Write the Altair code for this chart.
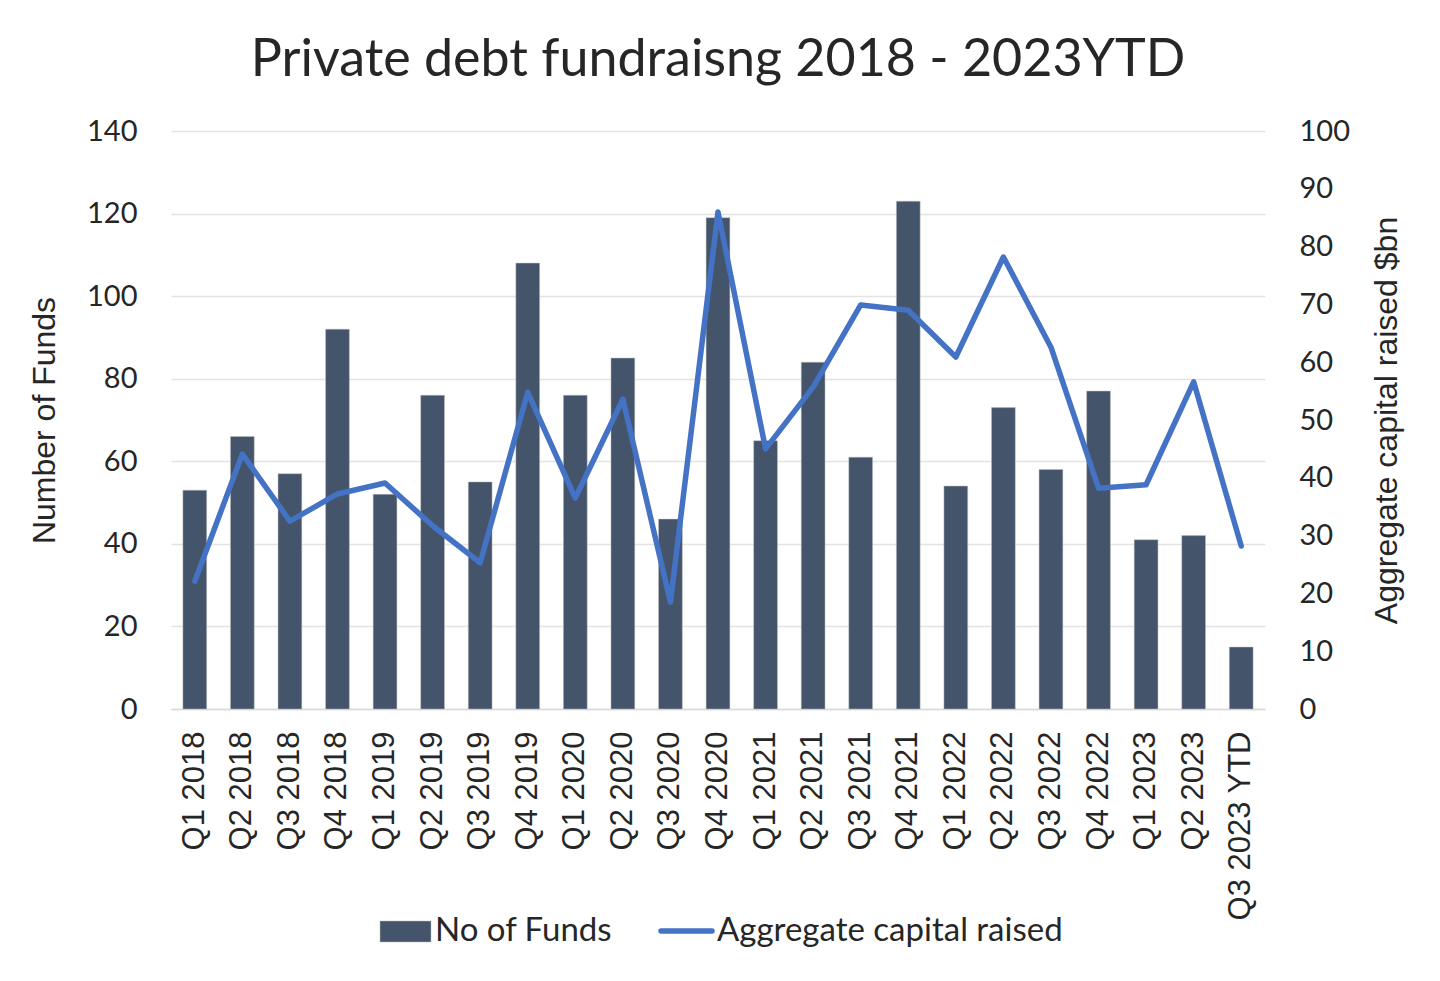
import altair as alt
import pandas as pd

quarters = ["Q1 2018", "Q2 2018", "Q3 2018", "Q4 2018", "Q1 2019", "Q2 2019", "Q3 2019", "Q4 2019",
            "Q1 2020", "Q2 2020", "Q3 2020", "Q4 2020", "Q1 2021", "Q2 2021", "Q3 2021", "Q4 2021",
            "Q1 2022", "Q2 2022", "Q3 2022", "Q4 2022", "Q1 2023", "Q2 2023", "Q3 2023 YTD"]
num_funds = [53, 66, 57, 92, 52, 76, 55, 108, 76, 85, 46, 119, 65, 84, 61, 123, 54, 73, 58, 77, 41, 42, 15]
capital_raised = [22.1, 44.1, 32.5, 37.2, 39.1, 31.7, 25.3, 54.8, 36.5, 53.6, 18.5, 86.0, 45.0, 55.7,
                  69.9, 69.0, 60.9, 78.2, 62.6, 38.2, 38.8, 56.6, 28.2]
legend_labels = ["No of Funds", "Aggregate capital raised"]
title_text = "Private debt fundraisng 2018 - 2023YTD"
left_title = "Number of Funds"
right_title = "Aggregate capital raised $bn"
left_ticks = [0, 20, 40, 60, 80, 100, 120, 140]
right_ticks = [0, 10, 20, 30, 40, 50, 60, 70, 80, 90, 100]

BAR = "#44546A"
LINE = "#4472C4"
TXT = "#262626"
FONT = "Lato"

df = pd.DataFrame({"q": quarters, "funds": num_funds, "capital": capital_raised})

W, H = 1094, 578

xenc = alt.X("q:N", sort=quarters, title=None,
             scale=alt.Scale(paddingInner=0.5, paddingOuter=0.25),
             axis=alt.Axis(labelAngle=-90, labelFontSize=31, labelFont="Liberation Sans",
                           labelColor=TXT, labelPadding=22, ticks=False, labelLimit=400,
                           domainColor="#D9D9D9", domainWidth=1.5, labelBaseline="middle"))

bars = alt.Chart(df).mark_bar(color=BAR, stroke="#BFBFBF", strokeWidth=0.5).encode(
    x=xenc,
    y=alt.Y("funds:Q", scale=alt.Scale(domain=[0, 140]),
            axis=alt.Axis(orient="left", values=left_ticks, title=left_title, grid=True,
                          gridColor="#E3E3E3", gridWidth=1.5, domain=False, ticks=False,
                          labelFontSize=29, labelFont=FONT, labelColor=TXT, labelPadding=34,
                          titleFontSize=32, titleFont="Liberation Sans", titleFontWeight="normal",
                          titleColor=TXT, titlePadding=25))
)

line = alt.Chart(df).mark_line(color=LINE, strokeWidth=5.5, strokeJoin="round", strokeCap="round").encode(
    x=alt.X("q:N", sort=quarters),
    y=alt.Y("capital:Q", scale=alt.Scale(domain=[0, 100]),
            axis=alt.Axis(orient="right", values=right_ticks, title=right_title, grid=False,
                          domain=False, ticks=False,
                          labelFontSize=29, labelFont=FONT, labelColor=TXT, labelPadding=34,
                          titleFontSize=32, titleFont="Liberation Sans", titleFontWeight="normal",
                          titleColor=TXT, titlePadding=54, titleAngle=-90))
)

dummy = alt.Data(values=[{"a": 1}])
leg_rect = alt.Chart(dummy).mark_rect(color=BAR, stroke="#BFBFBF", strokeWidth=0.5).encode(
    x=alt.value(209), x2=alt.value(260), y=alt.value(790), y2=alt.value(811))
leg_text1 = alt.Chart(dummy).mark_text(text=legend_labels[0], align="left", baseline="middle",
                                       fontSize=33, font=FONT, color=TXT).encode(
    x=alt.value(264), y=alt.value(800))
leg_line = alt.Chart(dummy).mark_rule(color=LINE, strokeWidth=5.5, strokeCap="round").encode(
    x=alt.value(490), x2=alt.value(541), y=alt.value(800))
leg_text2 = alt.Chart(dummy).mark_text(text=legend_labels[1], align="left", baseline="middle",
                                       fontSize=33, font=FONT, color=TXT).encode(
    x=alt.value(546), y=alt.value(800))

chart = alt.layer(bars, line, leg_rect, leg_text1, leg_line, leg_text2).resolve_scale(
    y="independent"
).properties(
    width=W, height=H,
    padding={"left": 20, "top": 26, "right": 5, "bottom": 5},
    title=alt.TitleParams(title_text, fontSize=52, font=FONT, fontWeight="normal", color=TXT,
                          anchor="middle", offset=30),
    background="white",
).configure_view(stroke=None)

chart.save("out.html", embed_options={"renderer": "svg", "actions": False})
